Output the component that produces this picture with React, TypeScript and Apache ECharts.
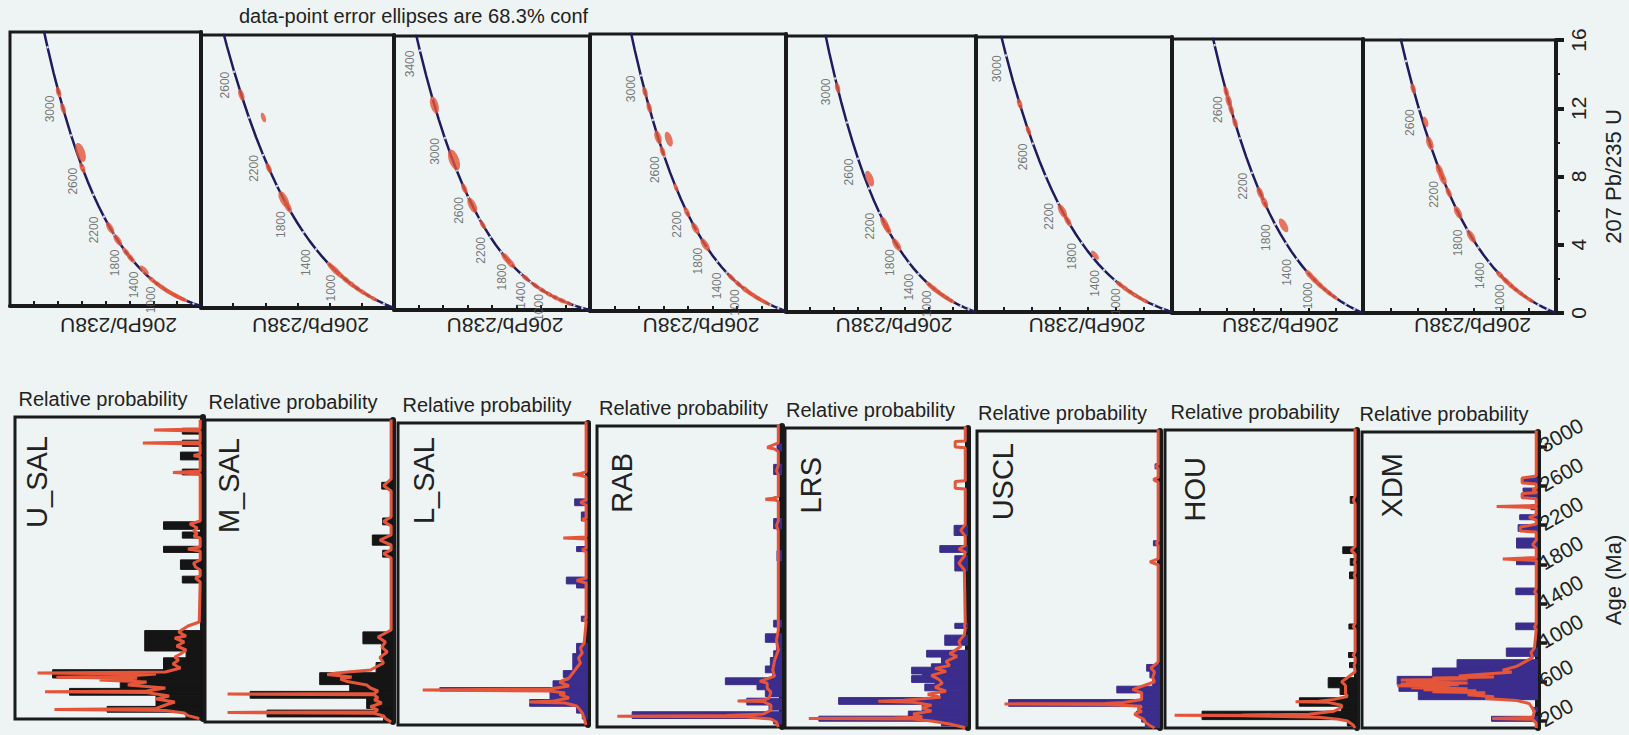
import React, { useEffect, useRef } from "react";
import * as echarts from "echarts";

const FONT = "'Liberation Sans', Arial, Helvetica, sans-serif";
const RED = "#e4553a";
const BLUE = "#3b2d8c";
const BLACK = "#151515";
const NAVY = "#1f1b5e";
const BG = "#eef4f4";
const INK = "#1a1a1a";

// decay constants (per Ma)
const L238 = 1.55125e-4;
const L235 = 9.8485e-4;

// ---------- labels ----------
const titleText = "data-point error ellipses are 68.3% conf";
const sampleNames = ["U_SAL", "M_SAL", "L_SAL", "RAB", "LRS", "USCL", "HOU", "XDM"];
const concXName = "206Pb/238U";
const concYName = "207 Pb/235 U";
const probName = "Relative probability";
const ageName = "Age (Ma)";

// ---------- axes ----------
const ageTicks = [200, 600, 1000, 1400, 1800, 2200, 2600, 3000];
const ageMin = 130;
const ageMax = 3150;
const concYMax = [23.7, 13.8, 29, 21.4, 21.5, 19.5, 15.1, 16];
const concXMax = [0.8, 0.6, 0.8, 0.8, 0.8, 0.7, 0.7, 0.7];
const concLabelAges = [1000, 1400, 1800, 2200, 2600, 3000, 3400];
const concDotAges = [200, 400, 600, 800, 1000, 1200, 1400, 1600, 1800, 2000, 2200, 2400, 2600, 2800, 3000, 3200, 3400, 3600];
const curveAges = [0, 25, 50, 75, 100, 150, 200, 250, 300, 350, 400, 450, 500, 600, 700, 800, 900, 1000, 1100, 1200, 1300, 1400, 1500, 1600, 1700, 1800, 1900, 2000, 2100, 2200, 2300, 2400, 2500, 2600, 2700, 2800, 2900, 3000, 3100, 3200, 3300, 3400, 3500, 3600, 3700, 3800];

// ---------- concordia ellipses: [age Ma, 206/238 offset fraction, size] ----------
const ellU_SAL = [[3016, 0, 1], [2940, 0, 1], [2700, -0.03, 1.8], [2600, 0, 1], [2080, 0, 1.2], [1930, 0, 1.2], [1760, 0, 1], [1660, 0, 1], [1430, -0.04, 1.1], [1200, 0, 0.9], [1080, 0, 0.9], [980, 0, 0.9], [880, 0, 0.9], [790, 0, 0.9], [700, 0, 0.9], [620, 0, 0.9], [540, 0, 0.8], [460, 0, 0.8]];
const ellM_SAL = [[2504, 0, 1.1], [2400, -0.1, 0.9], [2120, 0, 1], [1900, 0, 1.6], [1840, 0, 1.2], [1150, 0, 1], [1080, 0, 1.2], [1000, 0, 1], [900, 0, 1], [800, 0, 1], [700, 0, 0.9], [600, 0, 0.9], [500, 0, 0.8], [400, 0, 0.8]];
const ellL_SAL = [[3170, 0, 1.6], [2870, -0.01, 2], [2670, 0, 1], [2530, 0, 1.5], [2340, 0, 0.9], [1900, 0, 1.2], [1820, 0, 1.2], [1500, 0, 0.9], [1300, 0, 0.9], [1150, 0, 0.9], [1000, 0, 0.9], [850, 0, 0.9], [700, 0, 0.9], [550, 0, 0.8]];
const ellRAB = [[2930, 0, 1], [2860, 0, 1], [2710, 0, 1.3], [2700, -0.08, 1.4], [2630, 0, 1], [2390, 0, 0.8], [2190, 0, 1], [2030, 0, 1.2], [1840, 0, 1.3], [1300, 0, 0.9], [1150, 0, 0.9], [1000, 0, 1], [900, 0, 0.9], [800, 0, 0.9], [700, 0, 0.9], [600, 0, 0.8], [500, 0, 0.8]];
const ellLRS = [[2960, 0, 1], [2470, -0.04, 1.5], [2100, 0, 1.3], [2050, 0, 1.2], [1860, 0, 1.3], [1150, 0, 0.9], [1050, 0, 1], [950, 0, 0.9], [850, 0, 0.9], [750, 0, 0.9], [650, 0, 0.8]];
const ellUSCL = [[2800, 0, 1], [2670, 0, 0.9], [2130, 0, 1.4], [2040, 0, 1.1], [1640, -0.05, 1], [1100, 0, 0.9], [1000, 0, 0.9], [900, 0, 0.9], [800, 0, 0.9], [700, 0, 0.8], [600, 0, 0.8]];
const ellHOU = [[2620, 0, 1], [2580, 0, 1.2], [2540, 0, 1], [2480, 0, 1], [2060, 0, 1.2], [1990, 0, 1.2], [1790, -0.09, 1.4], [1150, 0, 1.1], [1050, 0, 1.1], [950, 0, 1], [850, 0, 0.9], [750, 0, 0.9], [650, 0, 0.8]];
const ellXDM = [[2690, 0, 1], [2540, -0.02, 1], [2430, 0, 1.3], [2270, 0, 1.3], [2220, 0, 1.3], [2120, 0, 1], [1960, 0, 1.3], [1730, 0, 1.3], [1190, 0, 1], [1080, 0, 1], [980, 0, 1], [880, 0, 0.9], [780, 0, 0.9], [680, 0, 0.8], [580, 0, 0.8]];

// ---------- histograms: [age from, age to, relative height %] ----------
const histU_SAL = [[2979, 3037, 11], [2857, 2918, 11], [2721, 2799, 12], [2571, 2629, 11], [2027, 2102, 21], [1939, 2000, 11], [1796, 1857, 21], [1626, 1721, 12], [1490, 1558, 11], [810, 1014, 31], [742, 810, 9], [623, 742, 21], [540, 623, 80], [436, 540, 44], [368, 436, 71], [256, 368, 25], [198, 256, 51], [130, 198, 9]];
const histM_SAL = [[2459, 2527, 6], [2102, 2170, 5.5], [1898, 2000, 11], [1779, 1847, 5.5], [912, 1031, 16], [725, 912, 6], [623, 725, 9], [504, 623, 39], [436, 504, 23], [368, 436, 76], [266, 368, 14], [249, 266, 10], [181, 249, 67], [130, 181, 5]];
const histL_SAL = [[2323, 2391, 7], [2170, 2260, 3.5], [1864, 1915, 6], [1541, 1609, 11.4], [1500, 1541, 6], [1167, 1218, 3.5], [844, 946, 6], [742, 844, 8], [674, 742, 8], [606, 674, 13], [572, 606, 10], [504, 572, 18.4], [470, 504, 78], [385, 470, 20], [317, 385, 30.7], [249, 317, 6], [190, 249, 3]];
const histRAB = [[2901, 2969, 2.7], [2663, 2765, 4.5], [2119, 2221, 4.5], [1796, 1898, 2.7], [1133, 1201, 4.5], [980, 1065, 9], [895, 980, 3], [827, 895, 4.5], [742, 827, 6.3], [674, 742, 9], [623, 674, 5], [555, 623, 30.6], [504, 555, 13.5], [436, 504, 9], [351, 419, 19], [300, 351, 7], [215, 283, 81], [160, 215, 4.5]];
const histLRS = [[2068, 2170, 7.6], [1898, 1966, 15.4], [1711, 1864, 7.2], [1133, 1184, 7.2], [963, 1065, 12.7], [844, 912, 22.6], [776, 844, 14.5], [742, 776, 20], [674, 742, 30.8], [657, 674, 25], [589, 657, 30.8], [572, 589, 18], [504, 572, 23.6], [436, 504, 15], [368, 436, 70.7], [300, 368, 25], [249, 300, 32.6], [198, 249, 81.5], [150, 198, 14.5]];
const histUSCL = [[2765, 2816, 2.7], [1983, 2034, 3.6], [708, 776, 7.3], [640, 708, 5.5], [555, 640, 4], [487, 555, 23.6], [419, 487, 10], [351, 419, 82.7], [300, 351, 12], [249, 300, 13], [190, 249, 10], [130, 190, 8]];
const histHOU = [[2408, 2476, 3.5], [1898, 1966, 7.4], [1779, 1847, 3.5], [1643, 1711, 3.9], [1133, 1184, 4.2], [844, 895, 4.4], [742, 793, 3.9], [538, 640, 15], [470, 538, 8.8], [436, 470, 5], [351, 436, 30], [300, 351, 8], [215, 300, 80.7], [150, 215, 5]];
const histXDM = [[2629, 2680, 9.4], [2544, 2578, 8.5], [2476, 2527, 9.4], [2357, 2408, 4], [2255, 2306, 10.4], [2136, 2204, 11.3], [1966, 2068, 12.2], [1796, 1864, 12.2], [1490, 1558, 12.6], [1133, 1201, 12.6], [861, 946, 18], [742, 827, 46], [657, 742, 60], [572, 657, 80], [504, 572, 79], [419, 504, 68], [300, 340, 3], [198, 249, 26.4]];

// ---------- probability density curves: [age, relative value %] ----------
const pdpU_SAL = [[3122, 1.5], [3030, 1.5], [3020, 26], [3010, 1.5], [2900, 1.5], [2891, 32], [2880, 1.5], [2780, 1.5], [2765, 5], [2750, 1.5], [2610, 1.5], [2595, 16], [2580, 1.5], [2110, 1.5], [2080, 7], [2040, 3], [2010, 5], [1980, 3], [1960, 5], [1940, 1.5], [1850, 1.5], [1830, 8], [1810, 1.5], [1720, 1.5], [1690, 5], [1650, 4], [1620, 1.5], [1560, 1.5], [1540, 4], [1500, 1.5], [1100, 2], [1060, 8], [1000, 13], [960, 9], [940, 15], [900, 10], [860, 14], [820, 9], [780, 12], [750, 15], [720, 13], [680, 16], [640, 12], [600, 20], [589, 88], [580, 25], [560, 40], [548, 78], [538, 35], [520, 55], [500, 30], [470, 40], [440, 20], [410, 30], [402, 84], [395, 30], [360, 18], [330, 25], [300, 15], [270, 20], [235, 25], [225, 79], [215, 20], [190, 10], [164, 8], [140, 3], [130, 2]];
const pdpM_SAL = [[3156, 1], [2560, 1], [2493, 5], [2440, 1], [2180, 1], [2136, 5], [2090, 1], [2000, 1], [1949, 7], [1900, 1], [1850, 1], [1813, 5], [1770, 1], [1050, 1], [980, 8], [930, 4], [878, 6], [830, 3], [776, 7], [720, 5], [650, 12], [620, 30], [606, 35], [580, 22], [560, 28], [538, 25], [500, 14], [470, 12], [440, 8], [415, 10], [409, 88], [402, 10], [370, 8], [351, 10], [320, 6], [283, 12], [250, 8], [232, 10], [225, 88], [218, 10], [190, 5], [164, 4], [130, 1]];
const pdpL_SAL = [[3190, 1], [2660, 1], [2645, 4], [2636, 8], [2627, 4], [2610, 1], [2380, 1], [2357, 4], [2330, 1], [2200, 1], [2187, 3], [2170, 1], [2010, 1], [1999, 13], [1990, 1], [1900, 1], [1881, 3], [1860, 1], [1600, 1], [1575, 6], [1550, 1], [1200, 1], [1184, 2], [1160, 1], [950, 2], [900, 4], [850, 3], [800, 5], [750, 4], [700, 6], [650, 8], [600, 10], [560, 15], [520, 10], [490, 20], [480, 87], [470, 20], [450, 12], [436, 15], [400, 10], [370, 18], [361, 31], [350, 12], [320, 6], [300, 5], [250, 3], [198, 2], [130, 1]];
const pdpRAB = [[3207, 2], [2980, 2], [2950, 6], [2935, 8], [2920, 4], [2890, 2], [2760, 2], [2700, 3], [2660, 2], [2440, 2], [2425, 5], [2415, 9], [2405, 3], [2390, 2], [2200, 2], [2150, 3], [2100, 2], [1880, 2], [1850, 2], [1820, 2], [1100, 2], [1000, 3], [900, 2], [800, 4], [700, 5], [640, 4], [600, 10], [590, 12], [570, 8], [520, 8], [480, 6], [420, 7], [400, 10], [392, 24], [385, 10], [350, 6], [300, 6], [260, 10], [245, 30], [239, 89], [232, 20], [210, 6], [180, 3], [130, 2]];
const pdpLRS = [[3224, 1.5], [3020, 1.5], [3013, 7], [2959, 7], [2950, 1.5], [2620, 1.5], [2612, 7], [2544, 7], [2535, 1.5], [2180, 1.5], [2120, 4], [2060, 1.5], [1970, 1.5], [1930, 5], [1900, 1.5], [1860, 2], [1790, 5], [1720, 2], [1190, 1.5], [1160, 2], [1130, 1.5], [1070, 2], [1000, 5], [950, 4], [900, 8], [880, 10], [850, 6], [800, 12], [760, 10], [730, 18], [700, 12], [660, 20], [620, 16], [580, 14], [540, 18], [500, 12], [470, 22], [440, 15], [410, 35], [400, 49], [390, 30], [360, 20], [330, 25], [300, 20], [270, 30], [240, 25], [230, 40], [225, 87], [220, 30], [200, 20], [170, 10], [140, 3], [130, 1.5]];
const pdpUSCL = [[3224, 1], [2820, 1], [2790, 2], [2760, 1], [2680, 1], [2655, 3.6], [2630, 1], [2040, 1], [2010, 2], [1980, 1], [1850, 1], [1820, 5.5], [1790, 1], [800, 1], [740, 5], [700, 3], [640, 4], [600, 3], [540, 12], [520, 15], [490, 10], [420, 10], [390, 20], [380, 30], [375, 85], [370, 30], [350, 10], [320, 12], [300, 10], [270, 14], [250, 12], [220, 9], [190, 8], [160, 6], [130, 3]];
const pdpHOU = [[3224, 1], [2480, 1], [2440, 2], [2400, 1], [1970, 1], [1930, 3], [1890, 1], [1830, 1], [1810, 1.5], [1790, 1], [1700, 1], [1680, 1.5], [1650, 1], [1190, 1], [1160, 2], [1130, 1], [900, 1], [870, 2], [840, 1], [790, 1], [770, 1.5], [700, 1], [640, 5], [600, 8], [560, 6], [520, 6], [480, 6], [450, 5], [420, 12], [400, 20], [395, 32], [390, 15], [360, 8], [340, 8], [300, 12], [270, 25], [262, 60], [259, 95], [255, 60], [240, 20], [220, 10], [200, 5], [160, 2], [130, 1]];
const pdpXDM = [[3224, 1], [2700, 1], [2680, 9], [2630, 9], [2620, 1], [2580, 1], [2560, 3], [2540, 1], [2530, 1], [2520, 9], [2480, 9], [2470, 1], [2400, 1], [2391, 23.5], [2380, 1], [2310, 1], [2280, 5], [2250, 1], [2210, 1], [2180, 10], [2140, 10], [2130, 1], [2050, 1], [2000, 3], [1960, 1], [1870, 1], [1854, 20], [1840, 1], [1560, 1], [1520, 2], [1490, 1], [1200, 1], [1160, 2], [1130, 1], [950, 2], [900, 4], [850, 3], [800, 8], [760, 12], [720, 20], [700, 15], [680, 30], [660, 45], [650, 25], [640, 60], [630, 40], [620, 78], [610, 50], [600, 75], [590, 40], [580, 78], [570, 45], [560, 80], [550, 50], [540, 72], [530, 40], [520, 65], [510, 35], [500, 60], [490, 30], [470, 40], [450, 25], [430, 30], [410, 12], [380, 5], [300, 2], [240, 3], [228, 26], [218, 3], [180, 1], [130, 1]];

const ellipses = [ellU_SAL, ellM_SAL, ellL_SAL, ellRAB, ellLRS, ellUSCL, ellHOU, ellXDM];
const hists = [histU_SAL, histM_SAL, histL_SAL, histRAB, histLRS, histUSCL, histHOU, histXDM];
const pdps = [pdpU_SAL, pdpM_SAL, pdpL_SAL, pdpRAB, pdpLRS, pdpUSCL, pdpHOU, pdpXDM];
const histColors = [BLACK, BLACK, BLUE, BLUE, BLUE, BLUE, BLACK, BLUE];

// ---------- layout (pixels): [left, top, right, bottom] ----------
const topPanels = [[10, 32, 201, 306], [201, 35, 394, 308], [394, 36, 590, 310], [590, 34, 786, 311], [786, 36, 976, 312], [976, 37, 1172, 312], [1172, 39, 1363, 313], [1363, 40, 1556, 313]];
const botPanels = [[15, 417, 203, 719], [205, 420, 393, 722], [398, 423, 588, 725], [597, 426, 782, 727], [785, 428, 968, 728], [977, 431, 1160, 728], [1165, 430, 1357, 728], [1362, 432, 1538, 728]];
const nameOffsets = [[7, 19], [9, 18], [11, 14], [10, 27], [11, 29], [11, 12], [15, 27], [15, 21]];

const concX = (t: number) => Math.exp(L238 * t) - 1;
const concY = (t: number) => Math.exp(L235 * t) - 1;

function buildOption() {
  const grid: any[] = [];
  const xAxis: any[] = [];
  const yAxis: any[] = [];
  const series: any[] = [];
  const graphic: any[] = [];

  // ---------- top row: concordia diagrams ----------
  topPanels.forEach(([l, t, r, b], k) => {
    const pw = r - l;
    const ph = b - t;
    const last = k === topPanels.length - 1;
    grid.push({ left: l, top: t, width: pw, height: ph, show: true, borderColor: INK, borderWidth: 3, backgroundColor: "transparent" });
    xAxis.push({
      gridIndex: k, type: "value", inverse: true, min: 0, max: concXMax[k], interval: 0.1,
      axisLine: { show: true, onZero: false, lineStyle: { color: INK, width: 4 } },
      axisTick: { show: true, inside: true, length: 5, lineStyle: { color: INK, width: 2 } },
      axisLabel: { show: false }, splitLine: { show: false },
    });
    yAxis.push({
      gridIndex: k, type: "value", min: 0, max: concYMax[k], interval: last ? 4 : undefined, position: "right",
      axisLine: { show: true, onZero: false, lineStyle: { color: INK, width: 4 } },
      axisTick: { show: last, length: 8, lineStyle: { color: INK, width: 4 } },
      minorTick: { show: last, splitNumber: 2, length: 4, lineStyle: { color: INK, width: 2 } },
      axisLabel: { show: last, rotate: 90, fontSize: 21, color: "#222", fontFamily: FONT, margin: 12 },
      splitLine: { show: false },
      name: last ? concYName : "", nameLocation: "middle", nameRotate: 90, nameGap: 46,
      nameTextStyle: { fontSize: 22, color: "#222", fontFamily: FONT },
    });
    const sx = pw / concXMax[k];
    const sy = ph / concYMax[k];
    series.push({
      type: "line", xAxisIndex: k, yAxisIndex: k, silent: true, clip: true, showSymbol: false, symbol: "none",
      data: curveAges.map((a) => [concX(a), concY(a)]),
      lineStyle: { color: NAVY, width: 2.5 }, z: 2,
    });
    series.push({
      type: "scatter", xAxisIndex: k, yAxisIndex: k, silent: true, clip: true,
      data: concDotAges.map((a) => [concX(a), concY(a)]),
      symbolSize: 2.5, itemStyle: { color: "#ffffff" }, z: 3,
    });
    series.push({
      type: "scatter", xAxisIndex: k, yAxisIndex: k, silent: true, clip: true,
      data: ellipses[k].map(([age, shift, s]) => {
        const dx = L238 * Math.exp(L238 * age) * sx;
        const dy = L235 * Math.exp(L235 * age) * sy;
        const ang = (Math.atan2(dy, dx) * 180) / Math.PI;
        return { value: [concX(age) * (1 + shift), concY(age)], symbolSize: [5 * s, 11 * s], symbolRotate: 90 - ang };
      }),
      symbol: "circle", itemStyle: { color: RED }, z: 4,
    });
    series.push({
      type: "scatter", xAxisIndex: k, yAxisIndex: k, silent: true, clip: true,
      data: concLabelAges.filter((a) => concY(a) < concYMax[k] * 0.97).map((a) => ({ value: [concX(a), concY(a)], name: String(a) })),
      symbolSize: 1, itemStyle: { color: "rgba(0,0,0,0)" }, z: 5,
      label: { show: true, formatter: "{b}", position: "left", distance: 3, rotate: 90, align: "right", verticalAlign: "bottom", fontSize: 12, color: "#555", fontFamily: FONT },
    });
    graphic.push({
      type: "text", x: (l + r) / 2 + 13, y: 325, rotation: Math.PI, silent: true,
      style: { text: concXName, fontSize: 21, fontFamily: FONT, fill: "#222", align: "center", verticalAlign: "middle", textAlign: "center", textVerticalAlign: "middle" },
    });
  });

  // ---------- bottom row: probability plots ----------
  botPanels.forEach(([l, t, r, b], j) => {
    const k = topPanels.length + j;
    const last = j === botPanels.length - 1;
    grid.push({ left: l, top: t, width: r - l, height: b - t, show: true, borderColor: INK, borderWidth: 3, backgroundColor: "transparent" });
    xAxis.push({
      gridIndex: k, type: "value", inverse: true, min: 0, max: 100,
      axisLine: { show: false }, axisTick: { show: false }, axisLabel: { show: false }, splitLine: { show: false },
    });
    yAxis.push({
      gridIndex: k, type: "value", min: ageMin, max: ageMax, position: "right",
      axisLine: { show: true, onZero: false, lineStyle: { color: INK, width: 6 } },
      axisTick: { show: last, customValues: ageTicks, length: 9, lineStyle: { color: INK, width: 3.5 } },
      axisLabel: {
        show: last, customValues: ageTicks, rotate: 30, fontSize: 21, color: "#222", fontFamily: FONT, margin: 3,
        formatter: (v: number) => String(Math.round(v)),
      },
      splitLine: { show: false },
      name: last ? ageName : "", nameLocation: "middle", nameRotate: 90, nameGap: 64,
      nameTextStyle: { fontSize: 22, color: "#222", fontFamily: FONT },
    });
    const color = histColors[j];
    series.push({
      type: "custom", xAxisIndex: k, yAxisIndex: k, silent: true, clip: true,
      data: hists[j], encode: { x: 2, y: [0, 1] },
      renderItem: (params: any, api: any) => {
        const p1 = api.coord([api.value(2), api.value(1)]);
        const p2 = api.coord([0, api.value(0)]);
        return {
          type: "rect",
          shape: { x: Math.min(p1[0], p2[0]), y: Math.min(p1[1], p2[1]), width: Math.abs(p2[0] - p1[0]), height: Math.abs(p2[1] - p1[1]) },
          style: { fill: color, stroke: color, lineWidth: 1 },
        };
      },
      z: 2,
    });
    series.push({
      type: "line", xAxisIndex: k, yAxisIndex: k, silent: true, clip: true, showSymbol: false, symbol: "none",
      data: pdps[j].map(([age, v]) => [v, age]),
      lineStyle: { color: RED, width: 3 }, z: 3,
    });
    graphic.push({
      type: "text", x: (l + r) / 2 - 6, y: t - 18, silent: true,
      style: { text: probName, fontSize: 20, fontFamily: FONT, fill: "#222", align: "center", verticalAlign: "middle", textAlign: "center", textVerticalAlign: "middle" },
    });
    graphic.push({
      type: "text", x: l + nameOffsets[j][0], y: t + nameOffsets[j][1], rotation: Math.PI / 2, silent: true,
      style: { text: sampleNames[j], fontSize: 29, fontFamily: FONT, fill: "#222", align: "right", verticalAlign: "top", textAlign: "right", textVerticalAlign: "top" },
    });
  });

  graphic.push({
    type: "text", x: 239, y: 16, silent: true,
    style: { text: titleText, fontSize: 20, fontFamily: FONT, fill: "#222", align: "left", verticalAlign: "middle", textAlign: "left", textVerticalAlign: "middle" },
  });

  return {
    animation: false,
    backgroundColor: BG,
    grid, xAxis, yAxis, series, graphic,
  };
}

export default function App() {
  const ref = useRef<HTMLDivElement>(null);
  useEffect(() => {
    document.body.style.margin = "0";
    document.body.style.background = BG;
    const chart = echarts.init(ref.current as HTMLDivElement, null, { renderer: "svg" });
    chart.setOption(buildOption() as any);
    return () => chart.dispose();
  }, []);
  return <div ref={ref} style={{ width: 1629, height: 735, background: BG }} />;
}
